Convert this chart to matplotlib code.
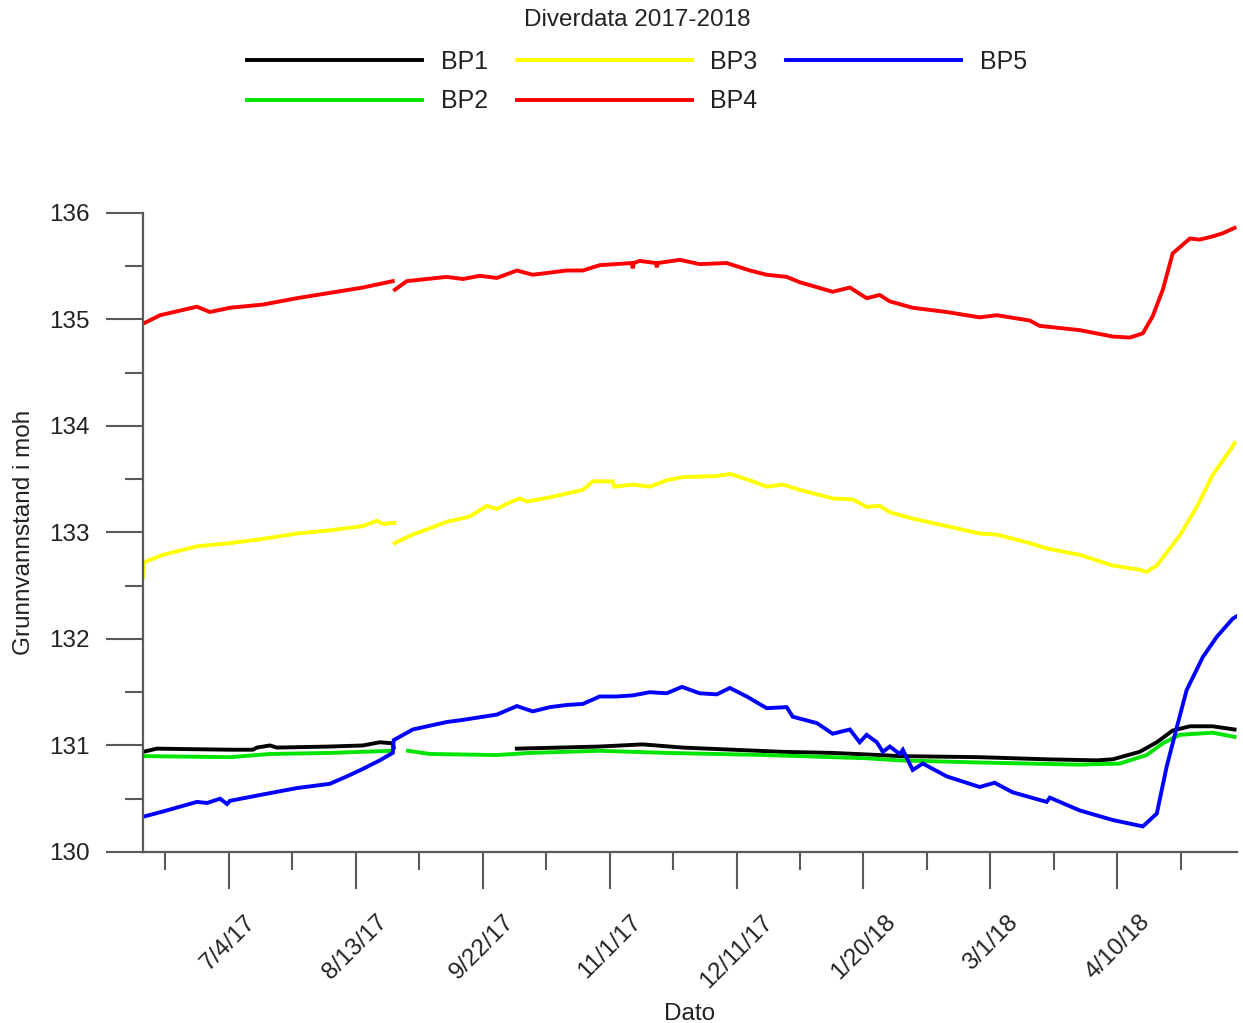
import numpy as np
import matplotlib
matplotlib.use("Agg")
import matplotlib.pyplot as plt
import matplotlib.dates as mdates
from matplotlib.ticker import FixedLocator, FuncFormatter, MultipleLocator
from datetime import datetime

plt.rcParams['font.family'] = ['Liberation Sans', 'DejaVu Sans']

# ---- data (day offsets from 2017-06-07, value in moh) ----
start_date = datetime(2017, 6, 7)
nan = np.nan

bp1_days = [0, 4.4, 27.4, 34.6, 35.9, 40.0, 42.2, 58.9, 69.3, 74.6, 78.7, 79.0, 79.1,
            117.8, 143.9, 157.5, 170.1, 185.8, 201.6, 217.3, 232.1, 238.4, 263.6, 284.7,
            300.5, 305.5, 314.0, 319.4, 324.4, 329.8, 337.0, 343.9]
bp1_vals = [130.94, 130.97, 130.96, 130.96, 130.98, 131.00, 130.98, 130.99, 131.00, 131.03, 131.02, 130.98, nan,
            130.97, 130.99, 131.01, 130.98, 130.96, 130.94, 130.93, 130.91, 130.90, 130.89, 130.87,
            130.86, 130.87, 130.94, 131.03, 131.14, 131.18, 131.18, 131.15]

bp2_days = [0, 27.4, 40.0, 58.9, 78.7, 80.0,
            83.5, 90.4, 111.5, 121.9, 143.9, 165.0, 196.5, 228.0, 238.4, 263.6, 295.1,
            307.7, 316.2, 321.3, 326.6, 337.0, 343.9]
bp2_vals = [130.90, 130.89, 130.92, 130.93, 130.95, nan,
            130.95, 130.92, 130.91, 130.93, 130.95, 130.93, 130.91, 130.88, 130.86, 130.84, 130.82,
            130.83, 130.91, 131.02, 131.10, 131.12, 131.08]

bp3_days = [0, 0.3, 6.3, 17.0, 27.4, 37.8, 48.5, 58.9, 69.3, 73.7, 75.6, 79.2, 79.25,
            79.3, 85.0, 90.4, 95.7, 103.0, 108.3, 111.5, 114.6, 118.7, 120.9, 128.2, 138.6,
            141.7, 148.0, 148.5, 154.3, 159.7, 165.0, 170.1, 180.8, 184.9, 191.2, 196.5,
            201.6, 206.9, 217.3, 223.6, 228.0, 232.1, 235.3, 242.5, 253.2, 263.6, 269.0,
            279.4, 284.7, 295.1, 305.5, 314.0, 316.2, 319.4, 326.6, 332.0, 337.0, 342.4, 343.9]
bp3_vals = [132.58, 132.72, 132.79, 132.87, 132.90, 132.94, 132.99, 133.02, 133.06, 133.11, 133.08, 133.09, nan,
            132.90, 132.98, 133.04, 133.10, 133.15, 133.25, 133.22, 133.27, 133.32, 133.29, 133.33, 133.40,
            133.48, 133.48, 133.43, 133.45, 133.43, 133.49, 133.52, 133.53, 133.55, 133.49, 133.43,
            133.45, 133.40, 133.32, 133.31, 133.24, 133.25, 133.19, 133.13, 133.06, 132.99, 132.98,
            132.90, 132.85, 132.79, 132.69, 132.65, 132.63, 132.69, 132.97, 133.24, 133.54, 133.77, 133.84]

bp4_days = [0, 5.4, 17.0, 21.1, 27.4, 37.8, 48.5, 58.9, 69.3, 78.7, 79.0,
            79.4, 83.1, 95.7, 100.8, 106.1, 111.5, 117.8, 122.8, 133.5, 138.6, 143.9,
            154.0, 154.3, 154.6, 156.5, 161.6, 161.9, 162.2, 169.1, 175.4, 183.9, 191.2,
            196.5, 202.8, 206.9, 217.3, 222.7, 228.0, 232.1, 235.3, 242.5, 253.2, 263.6,
            269.0, 279.4, 282.5, 295.1, 305.5, 310.9, 315.0, 318.1, 321.3, 324.4, 329.8,
            332.9, 337.0, 340.2, 343.9]
bp4_vals = [134.96, 135.04, 135.12, 135.07, 135.11, 135.14, 135.20, 135.25, 135.30, 135.36, nan,
            135.28, 135.36, 135.40, 135.38, 135.41, 135.39, 135.46, 135.42, 135.46, 135.46, 135.51,
            135.53, 135.48, 135.53, 135.55, 135.53, 135.49, 135.53, 135.56, 135.52, 135.53, 135.46,
            135.42, 135.40, 135.35, 135.26, 135.30, 135.20, 135.23, 135.17, 135.11, 135.07, 135.02,
            135.04, 134.99, 134.94, 134.90, 134.84, 134.83, 134.87, 135.03, 135.28, 135.62, 135.76,
            135.75, 135.78, 135.81, 135.86]

bp5_days = [0, 6.3, 17.0, 20.2, 24.3, 26.5, 27.4, 37.8, 48.5, 58.9, 64.3, 69.3, 74.6,
            78.7, 79.0, 85.0, 95.7, 100.8, 111.5, 117.8, 122.8, 128.2, 133.5, 138.6, 143.9,
            149.3, 154.3, 159.7, 165.0, 169.8, 175.4, 180.8, 184.9, 190.2, 196.5, 202.8,
            204.7, 212.3, 217.3, 222.7, 225.8, 228.0, 231.2, 233.1, 235.3, 238.4, 239.4,
            242.5, 245.7, 253.2, 263.6, 268.3, 274.0, 284.7, 285.7, 295.1, 305.5, 315.0,
            319.4, 322.5, 325.7, 328.8, 333.9, 338.3, 343.3, 344.4]
bp5_vals = [130.33, 130.38, 130.47, 130.46, 130.50, 130.45, 130.48, 130.54, 130.60, 130.64, 130.71, 130.78, 130.86,
            130.93, 131.05, 131.15, 131.22, 131.24, 131.29, 131.37, 131.32, 131.36, 131.38, 131.39, 131.46,
            131.46, 131.47, 131.50, 131.49, 131.55, 131.49, 131.48, 131.54, 131.46, 131.35, 131.36,
            131.27, 131.21, 131.11, 131.15, 131.03, 131.10, 131.03, 130.94, 130.99, 130.92, 130.96,
            130.77, 130.83, 130.71, 130.61, 130.65, 130.56, 130.47, 130.51, 130.39, 130.30, 130.24,
            130.36, 130.80, 131.17, 131.52, 131.83, 132.02, 132.19, 132.21]

series_names = ["BP1", "BP2", "BP3", "BP4", "BP5"]
series_days = [bp1_days, bp2_days, bp3_days, bp4_days, bp5_days]
series_vals = [bp1_vals, bp2_vals, bp3_vals, bp4_vals, bp5_vals]
series_colors = ["#000000", "#00E400", "#FFFF00", "#FF0000", "#0000FF"]

major_tick_dates = ["2017-07-04", "2017-08-13", "2017-09-22", "2017-11-01",
                    "2017-12-11", "2018-01-20", "2018-03-01", "2018-04-10"]
minor_tick_dates = ["2017-06-14", "2017-07-24", "2017-09-02", "2017-10-12",
                    "2017-11-21", "2017-12-31", "2018-02-09", "2018-03-21", "2018-04-30"]
x_end_day = 344.6

# ---- plot ----
fig = plt.figure(figsize=(12.43, 10.23), dpi=100)
ax = fig.add_axes([0.115, 0.1672, 0.880, 0.6246])

base = mdates.date2num(start_date)
for name, d, v, c in zip(series_names, series_days, series_vals, series_colors):
    ax.plot(base + np.array(d), np.array(v, dtype=float), color=c, lw=2.8, label=name,
            solid_joinstyle="miter")

ax.set_xlim(base, base + x_end_day)
ax.set_ylim(130, 136)

ax.xaxis.set_major_locator(FixedLocator([mdates.datestr2num(s) for s in major_tick_dates]))
ax.xaxis.set_minor_locator(FixedLocator([mdates.datestr2num(s) for s in minor_tick_dates]))

def fmt_date(x, pos=None):
    dt = mdates.num2date(x)
    return f"{dt.month}/{dt.day}/{dt.year % 100}"

ax.xaxis.set_major_formatter(FuncFormatter(fmt_date))
ax.yaxis.set_major_locator(MultipleLocator(1))
ax.yaxis.set_minor_locator(MultipleLocator(0.5))

spine_col = "#5a5a5a"
for s in ["top", "right"]:
    ax.spines[s].set_visible(False)
for s in ["left", "bottom"]:
    ax.spines[s].set_color(spine_col)
    ax.spines[s].set_linewidth(1.6)

ax.tick_params(which="major", direction="out", length=26.5, width=1.5, color=spine_col,
               labelsize=17.5, labelcolor="#222222")
ax.tick_params(which="minor", direction="out", length=13.2, width=1.5, color=spine_col)
ax.tick_params(axis="y", which="major", pad=12)
ax.tick_params(axis="x", which="major", pad=16)
for lab in ax.get_xticklabels():
    lab.set_rotation(45)
    lab.set_ha("center")
    lab.set_va("top")

ax.set_xlabel("Dato", fontsize=17.5, color="#222222", labelpad=8)
ax.set_ylabel("Grunnvannstand i moh", fontsize=17.5, color="#222222", labelpad=10)

fig.text(0.5125, 1 - 20 / 1023, "Diverdata 2017-2018", fontsize=17.5, color="#222222",
         ha="center", va="center")
leg = fig.legend(loc="upper center", bbox_to_anchor=(0.5125, 0.9685), ncol=3, frameon=False,
                 fontsize=18, handlelength=7.0, handletextpad=0.75, columnspacing=1.15,
                 labelspacing=0.63, borderpad=0.2)
for line in leg.get_lines():
    line.set_linewidth(2.8)
for t in leg.get_texts():
    t.set_color("#222222")

fig.savefig("out.png", dpi=100)
